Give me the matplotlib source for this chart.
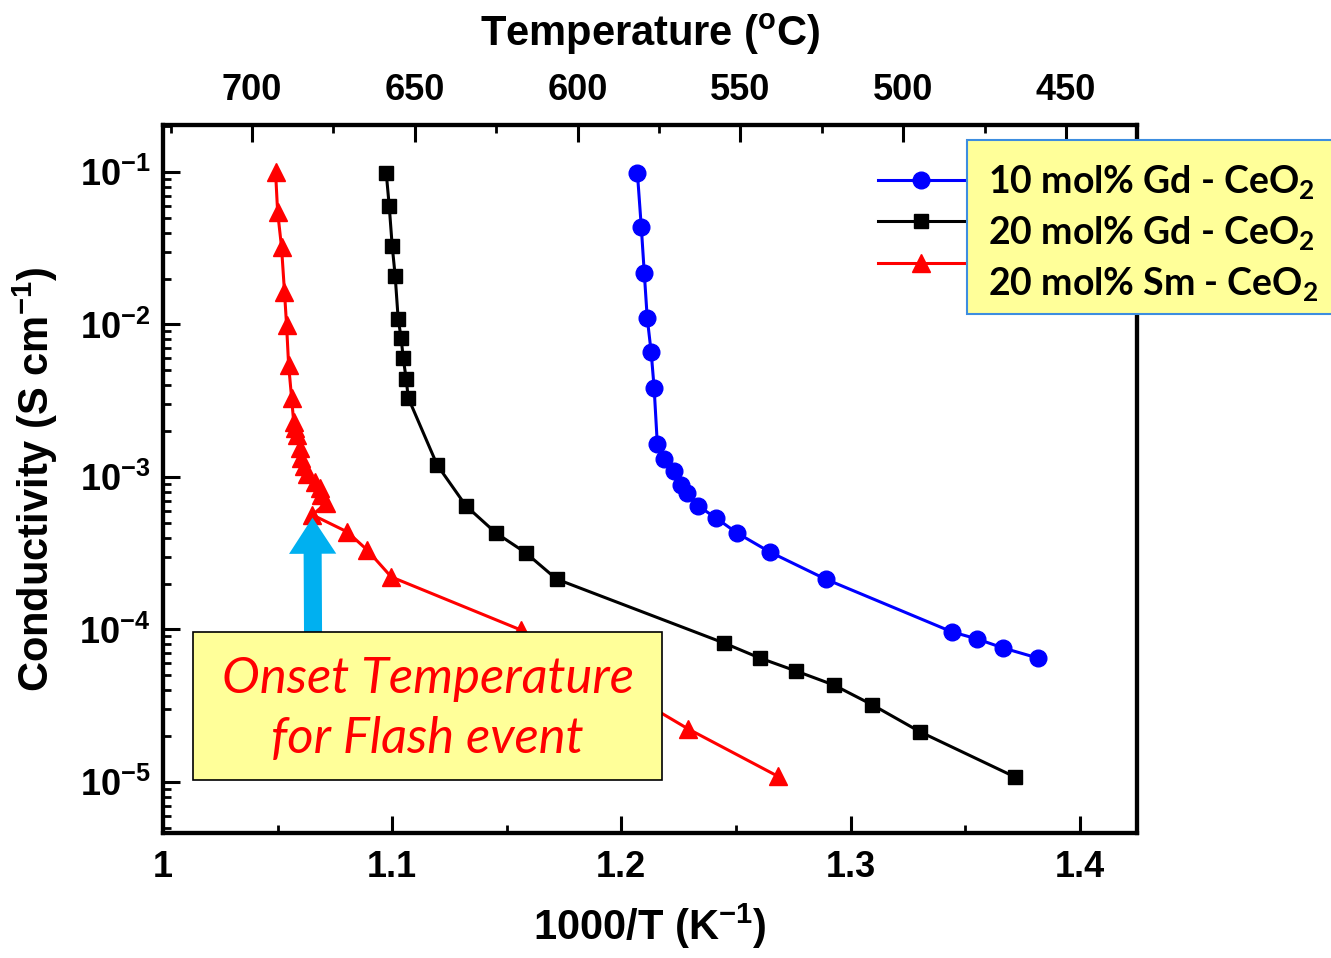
import numpy as np
import matplotlib
matplotlib.use('Agg')
import matplotlib.pyplot as plt
from matplotlib.patches import Rectangle
from matplotlib.ticker import (LogLocator, MultipleLocator, NullFormatter,
                               FuncFormatter)

plt.rcParams['font.family'] = 'Liberation Sans'
plt.rcParams['font.weight'] = 'bold'
plt.rcParams['axes.labelweight'] = 'bold'
plt.rcParams['mathtext.default'] = 'regular'

# conductivity vs inverse temperature (1000/T in K^-1, sigma in S/cm)
x_gd10 = [1.2070, 1.2087, 1.2100, 1.2113, 1.2130, 1.2143, 1.2157, 1.2187,
          1.2230, 1.2261, 1.2287, 1.2335, 1.2413, 1.2504, 1.2648, 1.2891,
          1.3443, 1.3552, 1.3665, 1.3817]
s_gd10 = [9.84e-2, 4.36e-2, 2.18e-2, 1.10e-2, 6.61e-3, 3.84e-3, 1.64e-3,
          1.31e-3, 1.09e-3, 8.87e-4, 7.85e-4, 6.46e-4, 5.38e-4, 4.30e-4,
          3.22e-4, 2.14e-4, 9.64e-5, 8.67e-5, 7.57e-5, 6.50e-5]

x_gd20 = [1.0974, 1.0987, 1.1000, 1.1013, 1.1026, 1.1039, 1.1048, 1.1061,
          1.1070, 1.1196, 1.1322, 1.1452, 1.1583, 1.1717, 1.2448, 1.2604,
          1.2761, 1.2926, 1.3096, 1.3304, 1.3717]
s_gd20 = [9.84e-2, 5.98e-2, 3.27e-2, 2.08e-2, 1.09e-2, 8.15e-3, 6.03e-3,
          4.40e-3, 3.30e-3, 1.20e-3, 6.46e-4, 4.30e-4, 3.18e-4, 2.14e-4,
          8.15e-5, 6.50e-5, 5.35e-5, 4.33e-5, 3.20e-5, 2.13e-5, 1.08e-5]

x_sm20 = [1.0491, 1.0500, 1.0517, 1.0530, 1.0539, 1.0548, 1.0561, 1.0570,
          1.0578, 1.0583, 1.0596, 1.0604, 1.0617, 1.0630, 1.0661, 1.0683,
          1.0691, 1.0713, 1.0652, 1.0804, 1.0891, 1.0996, 1.1561, 1.2291,
          1.2683]
s_sm20 = [1.00e-1, 5.47e-2, 3.22e-2, 1.63e-2, 9.93e-3, 5.42e-3, 3.30e-3,
          2.30e-3, 2.10e-3, 1.88e-3, 1.55e-3, 1.33e-3, 1.18e-3, 1.05e-3,
          9.27e-4, 8.47e-4, 7.62e-4, 6.76e-4, 5.64e-4, 4.36e-4, 3.32e-4,
          2.21e-4, 9.93e-5, 2.23e-5, 1.09e-5]
onset_idx = 18

labels = ['10 mol% Gd - CeO$_2$', '20 mol% Gd - CeO$_2$',
          '20 mol% Sm - CeO$_2$']
temp_ticks = [700, 650, 600, 550, 500, 450]

fig = plt.figure(figsize=(13.31, 9.58), dpi=100)
ax = fig.add_axes([0.1225, 0.1305, 0.7317, 0.739])

l1, = ax.plot(x_gd10, s_gd10, '-o', color='#0000ff', lw=2.2, ms=12)
l2, = ax.plot(x_gd20, s_gd20, '-s', color='black', lw=2.2, ms=10)
l3, = ax.plot(x_sm20, s_sm20, '-^', color='#ff0000', lw=2.2, ms=13)

ax.set_yscale('log')
ax.set_xlim(1.0, 1.425)
ax.set_ylim(4.63e-6, 0.203)
ax.xaxis.set_major_locator(MultipleLocator(0.1))
ax.xaxis.set_minor_locator(MultipleLocator(0.05))
ax.xaxis.set_major_formatter(FuncFormatter(lambda v, p: '%g' % round(v, 2)))
ax.yaxis.set_major_locator(LogLocator(base=10, numticks=10))
ax.yaxis.set_minor_locator(LogLocator(base=10, subs=np.arange(2, 10), numticks=10))
ax.yaxis.set_minor_formatter(NullFormatter())

ax.tick_params(which='major', direction='in', length=12, width=2.2,
               labelsize=26, top=False, right=False)
ax.tick_params(axis='x', which='major', pad=12)
ax.tick_params(axis='y', which='major', pad=9)
ax.tick_params(which='minor', direction='in', length=6, width=2,
               top=False, right=False)
for sp in ax.spines.values():
    sp.set_linewidth(3)

ax.set_xlabel('1000/T (K$^{-1}$)', fontsize=30, labelpad=12)
ax.set_ylabel('Conductivity (S cm$^{-1}$)', fontsize=30, labelpad=14)

# temperature scale along the top
ax2 = ax.twiny()
ax2.set_xlim(727.33, 428.19)
ax2.set_xticks(temp_ticks)
ax2.xaxis.set_minor_locator(MultipleLocator(25))
ax2.tick_params(which='major', direction='in', length=12, width=2.2,
                labelsize=26, pad=12)
ax2.tick_params(which='minor', direction='in', length=6, width=2)
ax2.set_xlabel('Temperature ($^o$C)', fontsize=30, labelpad=20)
for sp in ax2.spines.values():
    sp.set_linewidth(3)

# legend markers, labels sit in a separate yellow box
ax2.legend([l1, l2, l3], [' ', ' ', ' '], loc='center left',
           bbox_to_anchor=(0.734, 0.860), frameon=False, fontsize=20,
           handlelength=3.13, handletextpad=0.1, labelspacing=0.55,
           borderpad=0, borderaxespad=0)
fig.add_artist(Rectangle((0.7265, 0.6722), 0.3, 0.1817,
                         transform=fig.transFigure, facecolor='#ffff99',
                         edgecolor='#3d8de0', lw=1.5, zorder=5))
for lab, yb in zip(labels, [0.7985, 0.7453, 0.6921]):
    fig.text(0.7423, yb, lab, fontsize=27, family='Lato', weight='bold',
             va='baseline', ha='left', zorder=6)

# onset annotation
ax2.add_patch(Rectangle((0.0308, 0.0749), 0.4815, 0.2090,
                        transform=ax.transAxes, facecolor='#ffff99',
                        edgecolor='black', lw=1.2, zorder=4))
ax2.text(0.2716, 0.175, 'Onset Temperature\nfor Flash event',
         transform=ax.transAxes, ha='center', va='center',
         multialignment='center', fontsize=36.5, family='Lato',
         style='italic', weight='normal', color='#ff0000',
         linespacing=1.4, zorder=5)
ax.annotate('', xy=(x_sm20[onset_idx], s_sm20[onset_idx]),
            xytext=(0.154, 0.2839), textcoords='axes fraction',
            arrowprops=dict(arrowstyle='simple,head_length=26,head_width=34,tail_width=13',
                            mutation_scale=1, color='#00b0f0', lw=0,
                            shrinkA=0, shrinkB=2),
            zorder=5)

fig.savefig('out.png', dpi=100)
